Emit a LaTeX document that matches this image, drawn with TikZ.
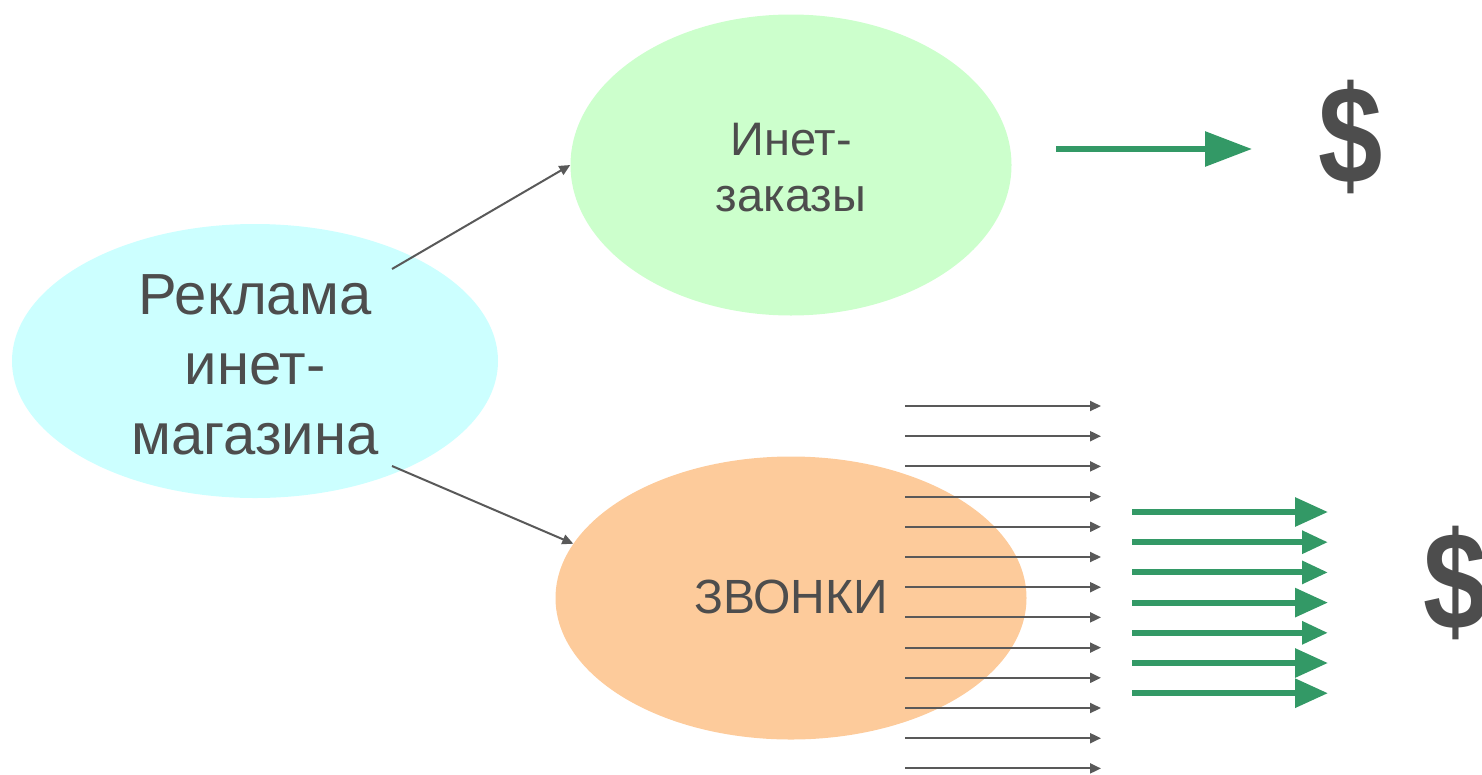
\documentclass[tikz,border=0pt]{standalone}
\usepackage{fontspec}
\setmainfont{Liberation Sans}
\usetikzlibrary{arrows.meta,shapes.geometric}
\definecolor{txt}{HTML}{4D4D4D}
\definecolor{lnk}{HTML}{595959}
\definecolor{cyanfill}{HTML}{CCFFFF}
\definecolor{greenfill}{HTML}{CCFFCC}
\definecolor{orangefill}{HTML}{FDCB9B}
\definecolor{money}{HTML}{339966}
\tikzset{
  blob/.style={ellipse, inner sep=0pt, text=txt, align=center},
  link/.style={draw=lnk, line width=2pt, -{Triangle[length=11pt,width=10pt]}},
  flow/.style={draw=money, line width=6pt},
  bigtip/.style={-{Triangle[length=33pt,width=28pt]}},
  smalltip/.style={-{Triangle[length=26pt,width=22pt]}},
  dollar/.style={text=txt, font=\bfseries\fontsize{118}{118}\selectfont, inner sep=0pt}
}
\begin{document}
\begin{tikzpicture}[x=1pt,y=-1pt]
\useasboundingbox (0,0) rectangle (1482,774);
\node[blob, fill=cyanfill, minimum width=486pt, minimum height=274pt] (rek) at (255,361) {};
\node[blob, fill=greenfill, minimum width=441pt, minimum height=301pt] (inet) at (791,165) {};
\node[blob, fill=orangefill, minimum width=471pt, minimum height=283pt] (zv) at (791,598) {};
\node[text=txt, align=center, font=\fontsize{58}{70}\selectfont] (rektxt) at (255,365) {Реклама\\инет-\\магазина};
\node[text=txt, align=center, font=\fontsize{47}{56}\selectfont] (inettxt) at (791,168) {Инет-\\заказы};
\node[text=txt, font=\fontsize{48}{52}\selectfont] (zvtxt) at (791,597) {ЗВОНКИ};
\coordinate (s1) at (392,269);
\coordinate (s2) at (392,466);
\draw[link] (s1) -- (inet.west);
\draw[link] (s2) -- (zv.166);
% thin call arrows
\foreach \i in {0,...,12}{
  \coordinate (a\i) at (905,{406+30.2*\i});
  \coordinate (b\i) at (1101,{406+30.2*\i});
  \draw[link] (a\i) -- (b\i);
}
% green arrows
\coordinate (ta) at (1056,149);
\coordinate (tb) at (1252,149);
\draw[flow, -{Triangle[length=47pt,width=34pt]}] (ta) -- (tb);
\foreach \i/\st in {0/bigtip,1/smalltip,2/smalltip,3/bigtip,4/smalltip,5/bigtip,6/bigtip}{
  \coordinate (ga\i) at (1132,{512+30.2*\i});
  \coordinate (gb\i) at (1328,{512+30.2*\i});
  \draw[flow, \st] (ga\i) -- (gb\i);
}
\node[dollar] (d1) at (1351,137) {\scalebox{0.98}[1.18]{\$}};
\node[dollar] (d2) at (1456,583) {\scalebox{0.98}[1.18]{\$}};
\end{tikzpicture}
\end{document}
